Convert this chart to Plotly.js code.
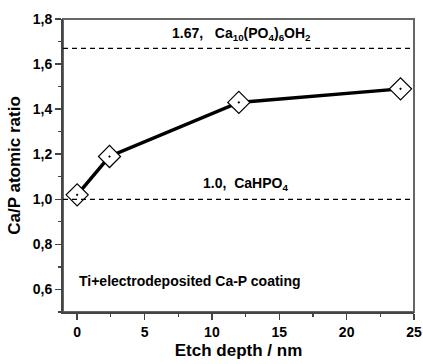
<!DOCTYPE html>
<html><head><meta charset="utf-8">
<script src="https://cdn.plot.ly/plotly-3.0.1.min.js"></script>
<style>html,body{margin:0;padding:0;background:#fff}#c{width:423px;height:364px}</style>
</head><body><div id="c"></div>
<script>
const depth = [0, 2.4, 12, 24];
const ratio = [1.02, 1.19, 1.43, 1.49];
const refLevels = [1.67, 1.0];
const refLabels = ['1.67,   Ca<sub>10</sub>(PO<sub>4</sub>)<sub>6</sub>OH<sub>2</sub>', '1.0,  CaHPO<sub>4</sub>'];
const refLabelX = [12.2, 12.5];
const refLabelY = [1.735, 1.068];
const noteText = 'Ti+electrodeposited Ca-P coating';
const xTicks = [0, 5, 10, 15, 20, 25];
const yTicks = [0.6, 0.8, 1.0, 1.2, 1.4, 1.6, 1.8];

const F = 'Liberation Sans, Arial, sans-serif';
const traces = [{
  x: depth, y: ratio, type: 'scatter', mode: 'lines+markers',
  line: {color: '#000', width: 3.5},
  marker: {symbol: 'diamond-dot', size: 17, color: '#fff', line: {width: 1.2, color: '#000'}},
  cliponaxis: false
}];
const shapes = refLevels.map(v => ({type: 'line', xref: 'paper', x0: 0, x1: 1, yref: 'y', y0: v, y1: v,
  line: {color: '#000', width: 1.2, dash: '5px,4px'}}));
shapes.push({type: 'rect', xref: 'paper', yref: 'paper', x0: 0, x1: 1, y0: 0, y1: 1, line: {color: '#666', width: 2}, layer: 'below'});
const annotations = refLabels.map((t, i) => ({x: refLabelX[i], y: refLabelY[i], xref: 'x', yref: 'y', text: t, showarrow: false,
  font: {family: F, size: 14, weight: 700, color: '#000'}}));
annotations.push({x: 0, y: 0.636, xref: 'x', yref: 'y', xanchor: 'left', text: noteText, showarrow: false,
  font: {family: F, size: 14, weight: 700, color: '#000'}});

const axisCommon = {
  showgrid: false, zeroline: false, showline: true, linecolor: '#444', linewidth: 2,
  ticks: 'outside', ticklen: 6, tickwidth: 1.5, tickcolor: '#444',
  tickfont: {family: F, size: 14, weight: 700, color: '#000'},
  minor: {ticks: 'outside', ticklen: 3, tickwidth: 1.2, tickcolor: '#444'}
};
const layout = {
  width: 423, height: 364, margin: {l: 63, r: 9, t: 19, b: 52},
  paper_bgcolor: '#fff', plot_bgcolor: '#fff', showlegend: false,
  separators: ',.',
  xaxis: Object.assign({}, axisCommon, {range: [-1.05, 25], tickvals: xTicks, ticktext: xTicks.map(String),
    minor: Object.assign({}, axisCommon.minor, {dtick: 2.5, tick0: 0}),
    title: {text: 'Etch depth / nm', font: {family: F, size: 17, weight: 700, color: '#000'}, standoff: 5}}),
  yaxis: Object.assign({}, axisCommon, {range: [0.5, 1.8], tickvals: yTicks, tickformat: '.1f',
    minor: Object.assign({}, axisCommon.minor, {dtick: 0.1, tick0: 0.5}),
    title: {text: 'Ca/P atomic ratio', font: {family: F, size: 17, weight: 700, color: '#000'}, standoff: 8}}),
  shapes: shapes, annotations: annotations
};
Plotly.newPlot('c', traces, layout, {displayModeBar: false, staticPlot: true});
</script></body></html>
